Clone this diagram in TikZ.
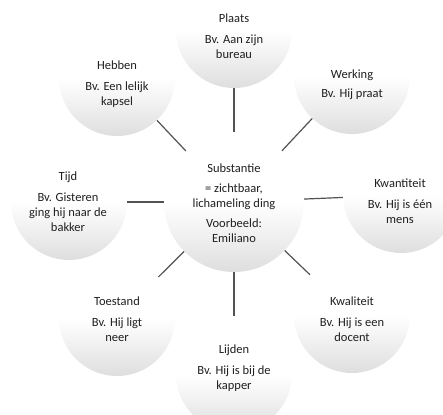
\documentclass[tikz,border=0pt]{standalone}
\usepackage{fontspec}
\setmainfont{Carlito}
\pgfdeclareverticalshading{ballshade}{100bp}{color(0bp)=(black!13); color(25bp)=(black!13); color(38bp)=(black!6); color(50bp)=(white); color(100bp)=(white)}
\begin{document}
\begin{tikzpicture}[x=1pt,y=-1pt,
  sat/.style={circle,draw=none,minimum size=116pt,inner sep=0pt,
    shading=ballshade},
  hub/.style={circle,draw=none,minimum size=140pt,inner sep=0pt,
    shading=ballshade},
  txt/.style={align=center,inner sep=0pt,text=black!88,
    font=\fontsize{12.5}{15}\selectfont},
  link/.style={draw=black!68,line width=1.2pt}]
\useasboundingbox (0,0) rectangle (443,414);
\clip (0,0) rectangle (443,414);
% circles
\node[hub] (c) at (234,202) {};
\node[sat] (plaats) at (234,30) {};
\node[sat] (hebben) at (117,78) {};
\node[sat] (werking) at (352,76) {};
\node[sat] (tijd) at (69,202) {};
\node[sat] (kwantiteit) at (401,195) {};
\node[sat] (toestand) at (117,318) {};
\node[sat] (kwaliteit) at (352,315) {};
\node[sat] (lijden) at (234,374) {};
% connectors
\foreach \n in {plaats,hebben,werking,tijd,kwantiteit,toestand,kwaliteit,lijden}
  \draw[link] (c) -- (\n);
% texts
\node[txt] (cT) at (234,203) {Substantie\\[5pt]= zichtbaar,\\lichameling ding\\[5pt]Voorbeeld:\\Emiliano};
\node[txt] (plaatsT) at (234,36) {Plaats\\[6pt]Bv. Aan zijn\\bureau};
\node[txt] (hebbenT) at (117,84) {Hebben\\[6pt]Bv. Een lelijk\\kapsel};
\node[txt] (werkingT) at (352,85) {Werking\\[4pt]Bv. Hij praat};
\node[txt] (tijdT) at (68,202) {Tijd\\[6pt]Bv. Gisteren\\ging hij naar de\\bakker};
\node[txt] (kwantiteitT) at (400,201) {Kwantiteit\\[6pt]Bv. Hij is één\\mens};
\node[txt] (toestandT) at (117,319) {Toestand\\[6pt]Bv. Hij ligt\\neer};
\node[txt] (kwaliteitT) at (352,319) {Kwaliteit\\[6pt]Bv. Hij is een\\docent};
\node[txt] (lijdenT) at (234,368) {Lijden\\[6pt]Bv. Hij is bij de\\kapper};
\end{tikzpicture}
\end{document}
